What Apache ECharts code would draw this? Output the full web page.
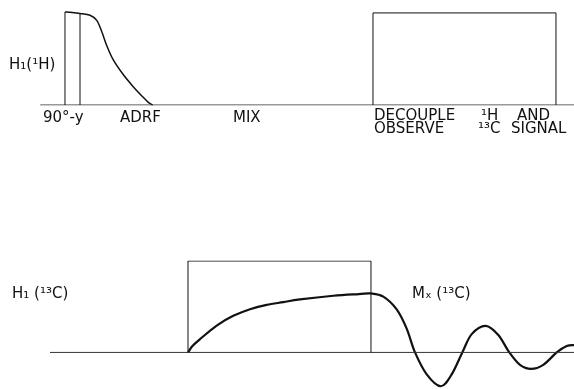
<!DOCTYPE html>
<html><head><meta charset="utf-8">
<script src="https://cdn.jsdelivr.net/npm/echarts@6/dist/echarts.min.js"></script>
<style>html,body{margin:0;padding:0;background:#fff}#c{width:574px;height:389px}</style>
</head><body><div id="c"></div>
<script>
// time axis in arbitrary units (0..100), amplitude in relative units
// ---- top trace: H1(1H)
var topBaseT = [7.0, 100];
var pulse90T = 11.32;          // start of 90°-y pulse
var pulse90EndT = 13.94;       // end of 90°-y pulse
var adrfT = [11.32, 12.54, 13.94, 15.68, 16.85, 17.72, 18.59, 19.69, 21.43, 23.17, 24.91, 25.9, 26.6];
var adrfA = [1.0, 0.995, 0.985, 0.965, 0.91, 0.79, 0.64, 0.49, 0.33, 0.2, 0.085, 0.025, 0.0];
var decoupleT = [64.98, 96.86];
var decoupleA = 0.99;
// ---- bottom trace: H1(13C) and Mx(13C)
var botBaseT = [8.71, 100];
var contactT = [32.75, 64.63];
var contactA = 1.0;
var buildT = [32.80, 33.45, 34.84, 37.75, 40.64, 43.55, 46.46, 49.36, 52.26, 58.07, 62.5, 64.63];
var buildA = [0.0, 0.065, 0.145, 0.294, 0.40, 0.473, 0.52, 0.55, 0.58, 0.62, 0.638, 0.645];
var fidT = [66.78, 69.11, 70.85, 72.30, 74.34, 76.78, 78.69, 80.54, 82.18, 84.62, 86.81, 88.73, 90.59, 92.51, 94.65, 96.99, 98.73, 100];
var fidA = [0.61, 0.47, 0.26, 0.0, -0.24, -0.37, -0.24, 0.0, 0.20, 0.29, 0.19, 0.0, -0.136, -0.18, -0.136, 0.0, 0.07, 0.08];
// ---- labels
var topLeftLabel = 'H₁(¹H)';
var topPeriodLabels = ['90°-y', 'ADRF', 'MIX'];
var topRow1 = ['DECOUPLE', '¹H', 'AND'];
var topRow2 = ['OBSERVE', '¹³C', 'SIGNAL'];
var botLeftLabel = 'H₁ (¹³C)';
var botRightLabel = 'Mₓ (¹³C)';

function zip(t, a) { return t.map(function (v, i) { return [v, a[i]]; }); }
var ink = '#111';
var FONT = '15px "DejaVu Sans"';

function line(data, grid, w, color) {
  return {
    type: 'line', xAxisIndex: grid, yAxisIndex: grid, data: data,
    showSymbol: false, animation: false,
    lineStyle: { color: color || ink, width: w }, silent: true
  };
}

// smooth curve through data points (Catmull-Rom), positioned by the axes via api.coord
function curve(data, grid, w) {
  return {
    type: 'custom', coordinateSystem: 'cartesian2d', xAxisIndex: grid, yAxisIndex: grid,
    data: data, silent: true, animation: false,
    renderItem: function (params, api) {
      if (params.dataIndex !== 0) return null;
      var p = data.map(function (d) { return api.coord(d); });
      var n = p.length;
      var d = 'M' + p[0][0] + ' ' + p[0][1];
      for (var i = 0; i < n - 1; i++) {
        var p0 = p[Math.max(i - 1, 0)], p1 = p[i], p2 = p[i + 1], p3 = p[Math.min(i + 2, n - 1)];
        var c1x = p1[0] + (p2[0] - p0[0]) / 6, c1y = p1[1] + (p2[1] - p0[1]) / 6;
        var c2x = p2[0] - (p3[0] - p1[0]) / 6, c2y = p2[1] - (p3[1] - p1[1]) / 6;
        d += ' C' + c1x + ' ' + c1y + ' ' + c2x + ' ' + c2y + ' ' + p2[0] + ' ' + p2[1];
      }
      return { type: 'path', shape: { pathData: d }, style: { fill: 'none', stroke: ink, lineWidth: w } };
    }
  };
}

var series = [
  line([[topBaseT[0], 0], [topBaseT[1], 0]], 0, 1, '#333'),
  line([[pulse90T, 0], [pulse90T, 1]], 0, 1),
  curve(zip(adrfT, adrfA), 0, 1.5),
  line([[pulse90EndT, 0], [pulse90EndT, adrfA[2]]], 0, 1),
  line([[decoupleT[0], 0], [decoupleT[0], decoupleA], [decoupleT[1], decoupleA], [decoupleT[1], 0]], 0, 1),
  line([[botBaseT[0], 0], [botBaseT[1], 0]], 1, 1, '#333'),
  line([[contactT[0], 0], [contactT[0], contactA], [contactT[1], contactA], [contactT[1], 0]], 1, 1),
  curve(zip(buildT, buildA).concat(zip(fidT, fidA)), 1, 2.2)
];

function txt(s, x, y) {
  return { type: 'text', style: { text: s, x: x, y: y, font: FONT, fill: ink, textVerticalAlign: 'middle', textAlign: 'left' }, silent: true };
}
var graphics = [
  txt(topLeftLabel, 9, 65),
  txt(topPeriodLabels[0], 43, 118),
  txt(topPeriodLabels[1], 120, 118),
  txt(topPeriodLabels[2], 233, 118),
  txt(topRow1[0], 374, 116),
  txt(topRow1[1], 481, 116),
  txt(topRow1[2], 517, 116),
  txt(topRow2[0], 374, 129),
  txt(topRow2[1], 478, 129),
  txt(topRow2[2], 511, 129),
  txt(botLeftLabel, 12, 294),
  txt(botRightLabel, 412, 294)
];

var chart = echarts.init(document.getElementById('c'), null, { renderer: 'canvas' });
chart.setOption({
  animation: false,
  backgroundColor: '#fff',
  grid: [
    { left: 0, right: 0, top: 12, height: 93 },
    { left: 0, right: 0, top: 261, height: 130 }
  ],
  xAxis: [
    { type: 'value', gridIndex: 0, min: 0, max: 100, show: false },
    { type: 'value', gridIndex: 1, min: 0, max: 100, show: false }
  ],
  yAxis: [
    { type: 'value', gridIndex: 0, min: 0, max: 1, show: false },
    { type: 'value', gridIndex: 1, min: -0.4, max: 1, show: false }
  ],
  series: series,
  graphic: graphics
});
</script></body></html>
